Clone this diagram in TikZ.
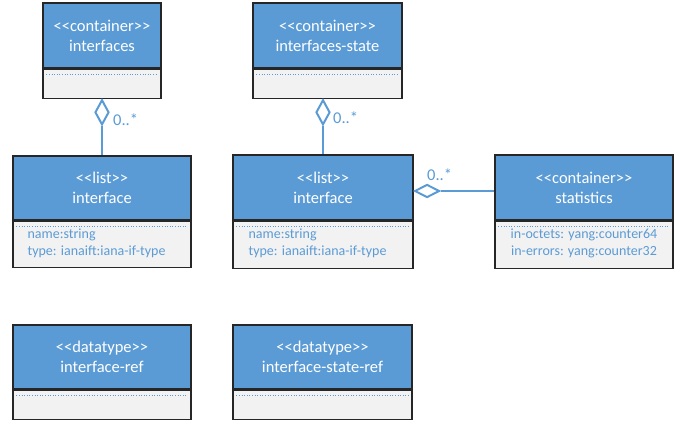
\documentclass[tikz,border=0pt]{standalone}
\usepackage{fontspec}
\setmainfont{Carlito}[Ligatures=TeXOff]
\usetikzlibrary{shapes.geometric}
\definecolor{hdrblue}{HTML}{5B9BD5}
\definecolor{cmpgray}{HTML}{F2F2F2}
\definecolor{edgeblk}{HTML}{262626}
\begin{document}
\begin{tikzpicture}[x=1pt,y=-1pt,
  hdr/.style={draw=edgeblk, fill=hdrblue, text=white, align=center, inner sep=0pt, line width=1.2pt, font=\fontsize{16.5}{20}\selectfont},
  cmp/.style={draw=edgeblk, fill=cmpgray, inner sep=0pt, line width=1.2pt},
  attr/.style={text=hdrblue, align=left, anchor=north west, inner sep=0pt, font=\fontsize{14}{17}\selectfont},
  sep/.style={draw=hdrblue, dotted, line width=0.6pt},
  conn/.style={draw=hdrblue, line width=2.2pt},
  agg/.style={diamond, draw=hdrblue, fill=white, line width=2pt, inner sep=0pt},
  mult/.style={text=hdrblue, inner sep=0pt, font=\fontsize{16.5}{20}\selectfont}]
\useasboundingbox (0,0) rectangle (685,422);

% interfaces
\node[hdr, minimum width=118pt, minimum height=65pt] (h1) at (102,35.5) {<<container>>\\interfaces};
\node[cmp, minimum width=118pt, minimum height=29pt, anchor=north] (c1) at (h1.south) {};
\draw[sep] ([xshift=4pt,yshift=-6pt]c1.north west) -- ([xshift=-4pt,yshift=-6pt]c1.north east);

% interfaces-state
\node[hdr, minimum width=149pt, minimum height=65pt] (h2) at (327.5,35.5) {<<container>>\\interfaces-state};
\node[cmp, minimum width=149pt, minimum height=29pt, anchor=north] (c2) at (h2.south) {};
\draw[sep] ([xshift=4pt,yshift=-6pt]c2.north west) -- ([xshift=-4pt,yshift=-6pt]c2.north east);

% list interface 1
\node[hdr, minimum width=178pt, minimum height=64pt] (h3) at (102,188) {<<list>>\\interface};
\node[cmp, minimum width=178pt, minimum height=46pt, anchor=north] (c3) at (h3.south) {};
\draw[sep] ([xshift=4pt,yshift=-6pt]c3.north west) -- ([xshift=-4pt,yshift=-6pt]c3.north east);
\node[attr] (a3) at ([xshift=15pt,yshift=-8pt]c3.north west) {name:string\\type: ianaift:iana-if-type};

% list interface 2
\node[hdr, minimum width=180pt, minimum height=65pt] (h4) at (323,187.5) {<<list>>\\interface};
\node[cmp, minimum width=180pt, minimum height=47pt, anchor=north] (c4) at (h4.south) {};
\draw[sep] ([xshift=4pt,yshift=-6pt]c4.north west) -- ([xshift=-4pt,yshift=-6pt]c4.north east);
\node[attr] (a4) at ([xshift=16pt,yshift=-8pt]c4.north west) {name:string\\type: ianaift:iana-if-type};

% statistics
\node[hdr, minimum width=178pt, minimum height=65pt] (h5) at (584,187.5) {<<container>>\\statistics};
\node[cmp, minimum width=178pt, minimum height=47pt, anchor=north] (c5) at (h5.south) {};
\draw[sep] ([xshift=4pt,yshift=-6pt]c5.north west) -- ([xshift=-4pt,yshift=-6pt]c5.north east);
\node[attr, align=center, anchor=north] (a5) at ([yshift=-8pt]c5.north) {in-octets: yang:counter64\\in-errors: yang:counter32};

% datatypes
\node[hdr, minimum width=178pt, minimum height=64pt] (h6) at (102,357) {<<datatype>>\\interface-ref};
\node[cmp, minimum width=178pt, minimum height=29pt, anchor=north] (c6) at (h6.south) {};
\draw[sep] ([xshift=4pt,yshift=-6pt]c6.north west) -- ([xshift=-4pt,yshift=-6pt]c6.north east);

\node[hdr, minimum width=179pt, minimum height=64pt] (h7) at (322.5,357) {<<datatype>>\\interface-state-ref};
\node[cmp, minimum width=179pt, minimum height=29pt, anchor=north] (c7) at (h7.south) {};
\draw[sep] ([xshift=4pt,yshift=-6pt]c7.north west) -- ([xshift=-4pt,yshift=-6pt]c7.north east);

% aggregations
\node[agg, minimum width=14pt, minimum height=25pt, anchor=north] (d1) at (c1.south -| h3.north) {};
\draw[conn] (d1.south) -- (h3.north);
\node[mult, anchor=west] (m1) at (113,120) {0..*};

\node[agg, minimum width=14pt, minimum height=25pt, anchor=north] (d2) at (c2.south -| h4.north) {};
\draw[conn] (d2.south) -- (h4.north);
\node[mult, anchor=west] (m2) at (333,118) {0..*};

\node[agg, minimum width=25pt, minimum height=13pt, anchor=west] (d3) at (h4.east |- 0,191) {};
\draw[conn] (d3.east) -- (d3.east -| h5.west);
\node[mult, anchor=west] (m3) at (427,175) {0..*};
\end{tikzpicture}
\end{document}
